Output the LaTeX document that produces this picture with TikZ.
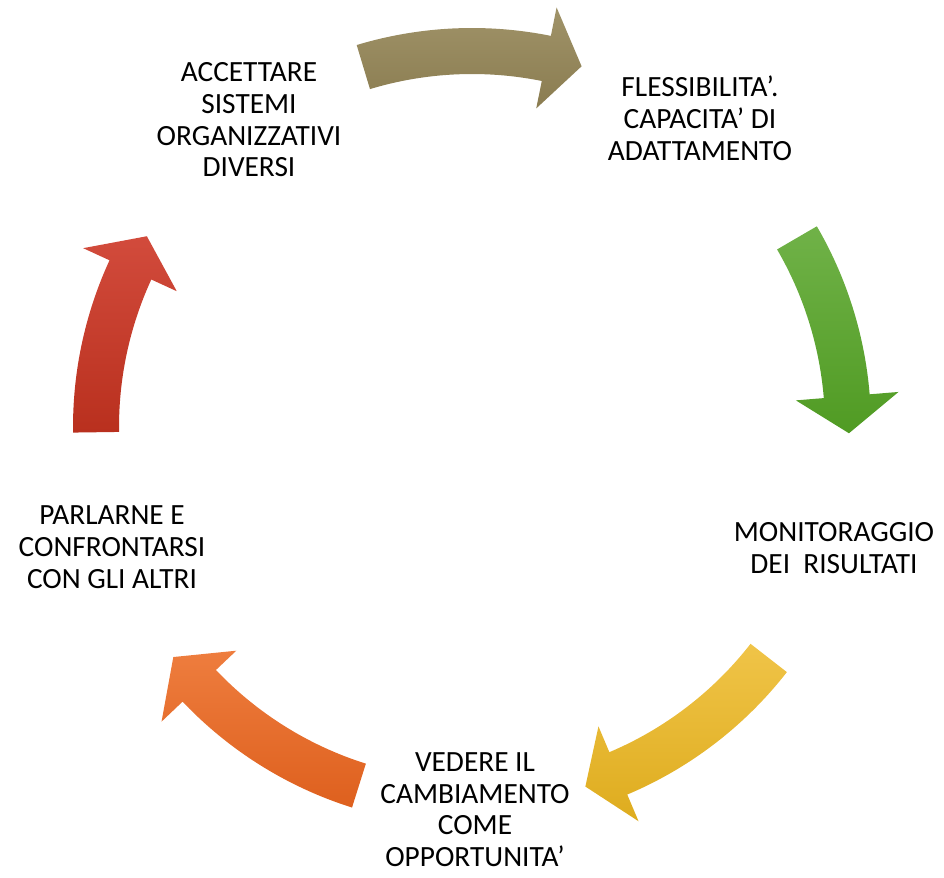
\documentclass[tikz,border=0pt]{standalone}
\usepackage{fontspec}
\setmainfont{Carlito}
\definecolor{khakiT}{RGB}{160,147,105}
\definecolor{khakiB}{RGB}{138,124,80}
\definecolor{greenT}{RGB}{112,178,72}
\definecolor{greenB}{RGB}{80,155,35}
\definecolor{yellowT}{RGB}{240,196,72}
\definecolor{yellowB}{RGB}{222,172,30}
\definecolor{orangeT}{RGB}{238,125,62}
\definecolor{orangeB}{RGB}{222,96,30}
\definecolor{redT}{RGB}{210,75,60}
\definecolor{redB}{RGB}{185,48,30}
% #1 tail angle, #2 head base angle, #3 tip angle, #4 top colour, #5 bottom colour
\newcommand\cycarrow[5]{%
  \shade[top color=#4, bottom color=#5, shift={(472,-427)}]
    (#1:399) arc[start angle=#1, end angle=#2, radius=399]
    -- (#2:428) -- (#3:377) -- (#2:325) -- (#2:353)
    arc[start angle=#2, end angle=#1, radius=353] -- cycle;}
\begin{document}
\begin{tikzpicture}[x=0.75pt,y=0.75pt,
  lbl/.style={align=center, inner sep=0pt, anchor=base,
    font=\fontsize{22pt}{23.8pt}\selectfont, text=black}]
\useasboundingbox (0,0) rectangle (944,-877);
\cycarrow{106.8}{78.6}{73.1}{khakiT}{khakiB}
\cycarrow{30.2}{4.7}{-0.95}{greenT}{greenB}
\cycarrow{-37.9}{-67.1}{-72.5}{yellowT}{yellowB}
\cycarrow{-107.5}{-136.5}{-142.4}{orangeT}{orangeB}
\cycarrow{180.8}{155.3}{149.6}{redT}{redB}
% anchor=base is the baseline of the last line
\node[lbl] (accettare) at (249,-176.8) {ACCETTARE\\SISTEMI\\ORGANIZZATIVI\\DIVERSI};
\node[lbl] (flessibilita) at (700,-160.1) {FLESSIBILITA’.\\CAPACITA’ DI\\ADATTAMENTO};
\node[lbl] (monitoraggio) at (834,-573.3) {MONITORAGGIO\\DEI\ \ RISULTATI};
\node[lbl] (vedere) at (475,-866.7) {VEDERE IL\\CAMBIAMENTO\\COME\\OPPORTUNITA’};
\node[lbl] (parlarne) at (112,-588.3) {PARLARNE E\\CONFRONTARSI\\CON GLI ALTRI};
\end{tikzpicture}
\end{document}
